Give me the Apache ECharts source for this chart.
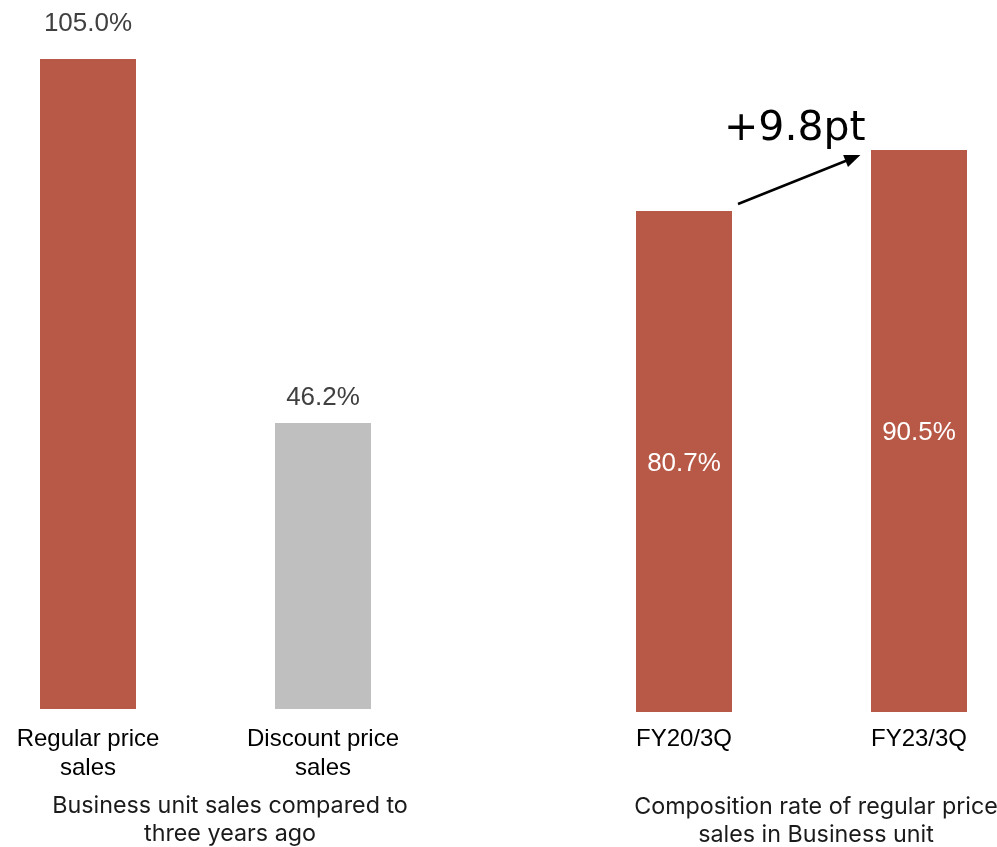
<!DOCTYPE html>
<html>
<head>
<meta charset="utf-8">
<title>Regular price sales</title>
<script src="https://cdn.jsdelivr.net/npm/echarts@6/dist/echarts.min.js"></script>
<style>
  html, body { margin: 0; padding: 0; background: #ffffff; }
  #chart { width: 997px; height: 847px; }
</style>
</head>
<body>
<div id="chart"></div>
<script>
// Left panel: sales vs. three years ago
const salesCategories = ['Regular price\nsales', 'Discount price\nsales'];
const salesValues = [105.0, 46.2];

// Right panel: composition rate of regular price sales
const rateCategories = ['FY20/3Q', 'FY23/3Q'];
const rateValues = [80.7, 90.5];

const panelTitles = [
  'Business unit sales compared to\nthree years ago',
  'Composition rate of regular price\nsales in Business unit'
];
const changeLabel = '+9.8pt';

const RED = '#B85948';
const GREY = '#BFBFBF';
const labelFont = '"Liberation Sans", Arial, sans-serif';
const titleFont = 'Inter, "Noto Sans", sans-serif';

const chart = echarts.init(document.getElementById('chart'), null, { renderer: 'canvas' });

const salesColors = [RED, GREY];
const salesLabelGap = [22, 12];

const titleStyle = { fontFamily: titleFont, fontSize: 23.3, fontWeight: 'normal', color: '#1a1a1a', lineHeight: 28 };

const option = {
  animation: false,
  backgroundColor: '#ffffff',
  title: [
    { text: panelTitles[0], left: 225, top: 787, textAlign: 'center', textStyle: titleStyle },
    { text: panelTitles[1], left: 811, top: 788, textAlign: 'center', textStyle: titleStyle }
  ],
  // each grid spans from the first category centre to the second
  grid: [
    { left: 88, width: 235, top: 28, bottom: 138 },
    { left: 684, width: 235, top: 29, bottom: 135 }
  ],
  xAxis: [
    {
      type: 'category', gridIndex: 0, data: salesCategories, boundaryGap: false,
      axisLine: { show: false }, axisTick: { show: false }, splitLine: { show: false },
      axisLabel: { margin: 15.5, fontFamily: labelFont, fontSize: 24, color: '#000', lineHeight: 29, interval: 0 }
    },
    {
      type: 'category', gridIndex: 1, data: rateCategories, boundaryGap: false,
      axisLine: { show: false }, axisTick: { show: false }, splitLine: { show: false },
      axisLabel: { margin: 12.5, fontFamily: labelFont, fontSize: 24, color: '#000', lineHeight: 29, interval: 0 }
    }
  ],
  yAxis: [
    { type: 'value', gridIndex: 0, min: 0, max: 110, show: false, splitLine: { show: false } },
    { type: 'value', gridIndex: 1, min: 0, max: 110, show: false, splitLine: { show: false } }
  ],
  series: [
    {
      type: 'bar', xAxisIndex: 0, yAxisIndex: 0, barWidth: 96, clip: false,
      data: salesValues.map((v, i) => ({
        value: v,
        itemStyle: { color: salesColors[i] },
        label: { distance: salesLabelGap[i] }
      })),
      label: {
        show: true, position: 'top',
        fontFamily: labelFont, fontSize: 26, color: '#404040',
        formatter: p => p.value.toFixed(1) + '%'
      }
    },
    {
      type: 'bar', xAxisIndex: 1, yAxisIndex: 1, barWidth: 96, clip: false,
      itemStyle: { color: RED },
      data: rateValues,
      label: {
        show: true, position: 'inside', offset: [0, 2],
        fontFamily: labelFont, fontSize: 26, color: '#ffffff',
        formatter: p => p.value.toFixed(1) + '%'
      },
      markLine: {
        silent: true,
        symbol: ['none', 'triangle'],
        symbolSize: [13, 16],
        label: { show: false },
        lineStyle: { color: '#000000', width: 2.5, type: 'solid' },
        data: [[{ x: 738, y: 204 }, { x: 853, y: 158 }]]
      }
    }
  ],
  graphic: [
    {
      type: 'text', left: 724, top: 109,
      style: {
        text: changeLabel,
        font: '41px "DejaVu Sans", sans-serif',
        fill: '#000000'
      }
    }
  ]
};

chart.setOption(option);
</script>
</body>
</html>
